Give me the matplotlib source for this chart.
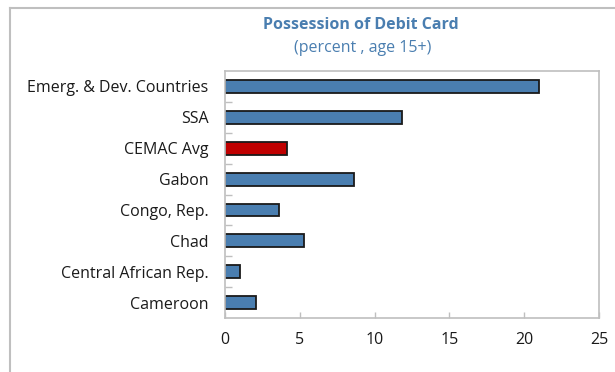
import matplotlib
matplotlib.use("Agg")
import matplotlib.pyplot as plt
from matplotlib.lines import Line2D

plt.rcParams["font.family"] = ["Open Sans", "DejaVu Sans"]

categories = ["Cameroon", "Central African Rep.", "Chad", "Congo, Rep.",
              "Gabon", "CEMAC Avg", "SSA", "Emerg. & Dev. Countries"]
values = [2.05, 1.02, 5.3, 3.59, 8.62, 4.14, 11.85, 21.0]
highlight = "CEMAC Avg"
xticks = [0, 5, 10, 15, 20, 25]

BLUE = "#4a7eb0"
RED = "#c00000"
GREY = "#bfbfbf"
TITLE_C = "#4a7eb0"

fig = plt.figure(figsize=(6.15, 3.72), dpi=100)
ax = fig.add_axes([0.366, 0.145, 0.608, 0.664])

colors = [RED if c == highlight else BLUE for c in categories]
ypos = list(range(len(categories)))
ax.barh(ypos, values, height=0.42, color=colors, edgecolor="#1a1a1a", linewidth=1.3)

ax.set_xlim(0, 25)
ax.set_ylim(-0.5, len(categories) - 0.5)
ax.set_xticks(xticks)
ax.set_xticklabels([str(t) for t in xticks])
ax.set_yticks(ypos)
ax.set_yticklabels(categories)
ax.set_yticks([y + 0.5 for y in ypos[:-1]], minor=True)

ax.tick_params(axis="y", which="major", length=0, pad=12, labelsize=11.5, labelcolor="#1a1a1a")
ax.tick_params(axis="y", which="minor", length=5, direction="in", color=GREY, width=1)
ax.tick_params(axis="x", which="major", length=4, direction="in", color=GREY, width=1,
               pad=10, labelsize=11.5, labelcolor="#1a1a1a")

for s in ax.spines.values():
    s.set_color(GREY)
    s.set_linewidth(1.2)

fig.text(0.587, 0.933, "Possession of Debit Card", ha="center", va="center",
         fontsize=11.5, fontweight="bold", color=TITLE_C)
fig.text(0.589, 0.872, "(percent , age 15+)", ha="center", va="center",
         fontsize=11.5, color=TITLE_C)

# outer frame (top and left edges)
fig.add_artist(Line2D([0.016, 1.0], [0.978, 0.978], color=GREY, lw=1.5,
                      transform=fig.transFigure))
fig.add_artist(Line2D([0.016, 0.016], [0.0, 0.978], color=GREY, lw=1.5,
                      transform=fig.transFigure))

fig.savefig("out.png", dpi=100)
